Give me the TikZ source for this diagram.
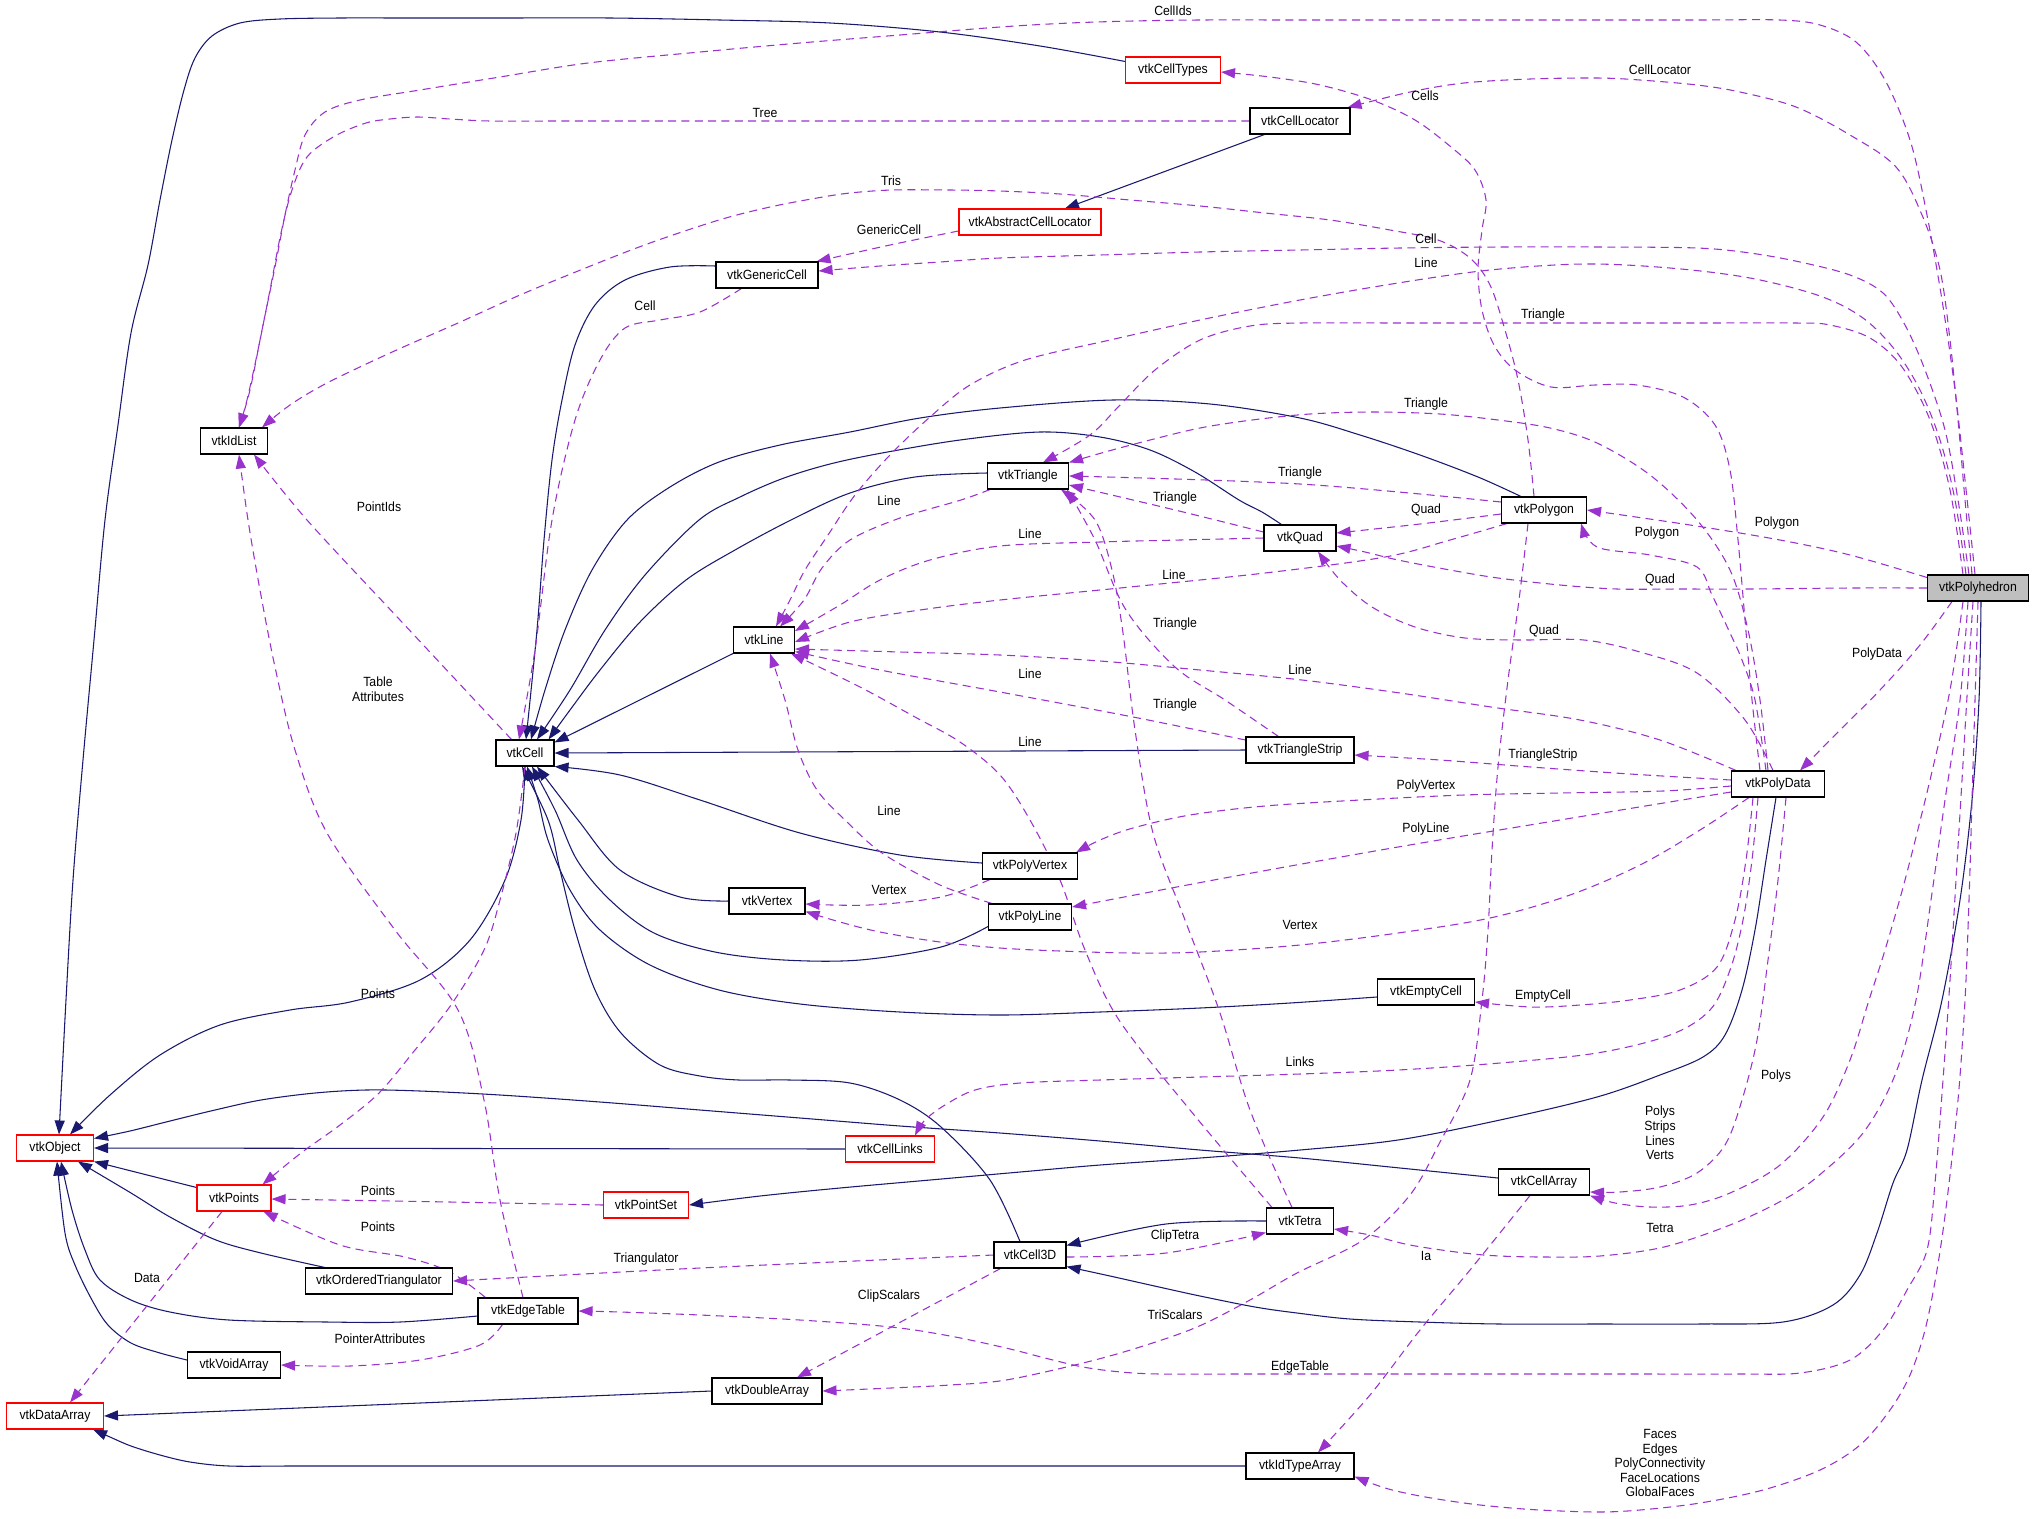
\documentclass[tikz,border=0pt]{standalone}
\usepackage{fontspec}
\setmainfont[FakeStretch=0.92]{Liberation Sans}
\usetikzlibrary{arrows.meta,calc}
\definecolor{inhc}{HTML}{191970}
\definecolor{depc}{HTML}{9A32CD}
\pgfdeclarelayer{edges}
\pgfsetlayers{edges,main}
\begin{document}
\begin{tikzpicture}[x=0.75pt,y=-0.75pt,
  cls/.style={draw=black,line width=0.8pt,fill=white,minimum height=19.5pt,minimum width=#1*0.75pt,inner sep=0pt,font=\fontsize{10}{11}\selectfont},
  rcls/.style={cls=#1,draw=red},
  lbl/.style={inner sep=0pt,align=center,font=\fontsize{10}{10.9}\selectfont},
  inh/.style={draw=inhc,line width=0.8pt,-{Triangle[length=10.5pt,width=7.5pt]}},
  dep/.style={draw=depc,line width=0.8pt,dash pattern=on 6pt off 4pt,-{Triangle[length=10.5pt,width=7.5pt]}}]
\useasboundingbox (0,0) rectangle (2035,1518);
% nodes
\node[cls=101,fill=black!25] (poly) at (1978,588) {vtkPolyhedron};
\node[rcls=95] (ctypes) at (1173,70) {vtkCellTypes};
\node[cls=100] (cloc) at (1300,121) {vtkCellLocator};
\node[rcls=142] (acloc) at (1030,222) {vtkAbstractCellLocator};
\node[cls=102] (gcell) at (767,275) {vtkGenericCell};
\node[cls=67] (idlist) at (234,441) {vtkIdList};
\node[cls=81] (tri) at (1028,476) {vtkTriangle};
\node[cls=85] (polygon) at (1544,510) {vtkPolygon};
\node[cls=72] (quad) at (1300,538) {vtkQuad};
\node[cls=61] (line) at (764,640) {vtkLine};
\node[cls=58] (cell) at (525,753) {vtkCell};
\node[cls=108] (tstrip) at (1300,750) {vtkTriangleStrip};
\node[cls=93] (pdata) at (1778,784) {vtkPolyData};
\node[cls=95] (pvertex) at (1030,866) {vtkPolyVertex};
\node[cls=76] (vertex) at (767,901) {vtkVertex};
\node[cls=83] (pline) at (1030,917) {vtkPolyLine};
\node[cls=97] (ecell) at (1426,992) {vtkEmptyCell};
\node[rcls=77] (object) at (55,1148) {vtkObject};
\node[rcls=89] (clinks) at (890,1149) {vtkCellLinks};
\node[cls=91] (carray) at (1544,1182) {vtkCellArray};
\node[rcls=74] (points) at (234,1198) {vtkPoints};
\node[rcls=85] (pset) at (646,1205) {vtkPointSet};
\node[cls=67] (tetra) at (1300,1221) {vtkTetra};
\node[cls=72] (c3d) at (1030,1255) {vtkCell3D};
\node[cls=147] (otri) at (379,1281) {vtkOrderedTriangulator};
\node[cls=100] (etable) at (528,1311) {vtkEdgeTable};
\node[cls=93] (varray) at (234,1365) {vtkVoidArray};
\node[cls=110] (darray) at (767,1391) {vtkDoubleArray};
\node[rcls=97] (dataarray) at (55,1416) {vtkDataArray};
\node[cls=108] (itarray) at (1300,1466) {vtkIdTypeArray};
% labels
\node[lbl] (l1) at (1173,11) {CellIds};
\node[lbl] (l2) at (1660,70) {CellLocator};
\node[lbl] (l3) at (1425,96) {Cells};
\node[lbl] (l4) at (765,113) {Tree};
\node[lbl] (l5) at (891,181) {Tris};
\node[lbl] (l6) at (889,230) {GenericCell};
\node[lbl] (l7) at (1426,239) {Cell};
\node[lbl] (l8) at (1426,263) {Line};
\node[lbl] (l9) at (1543,315) {Triangle};
\node[lbl] (l10) at (645,306) {Cell};
\node[lbl] (l11) at (1426,404) {Triangle};
\node[lbl] (l12) at (889,501) {Line};
\node[lbl] (l13) at (1300,473) {Triangle};
\node[lbl] (l14) at (1175,498) {Triangle};
\node[lbl] (l15) at (379,507) {PointIds};
\node[lbl] (l16) at (1426,510) {Quad};
\node[lbl] (l17) at (1777,523) {Polygon};
\node[lbl] (l18) at (1657,533) {Polygon};
\node[lbl] (l19) at (1030,534) {Line};
\node[lbl] (l20) at (1174,575) {Line};
\node[lbl] (l21) at (1660,580) {Quad};
\node[lbl] (l22) at (1544,631) {Quad};
\node[lbl] (l23) at (1877,654) {PolyData};
\node[lbl] (l24) at (1300,670) {Line};
\node[lbl] (l25) at (1030,674) {Line};
\node[lbl] (l26) at (378,689) {Table\\Attributes};
\node[lbl] (l27) at (1175,624) {Triangle};
\node[lbl] (l28) at (1175,705) {Triangle};
\node[lbl] (l29) at (1030,742) {Line};
\node[lbl] (l30) at (1543,755) {TriangleStrip};
\node[lbl] (l31) at (1426,786) {PolyVertex};
\node[lbl] (l32) at (889,811) {Line};
\node[lbl] (l33) at (1426,829) {PolyLine};
\node[lbl] (l34) at (889,890) {Vertex};
\node[lbl] (l35) at (1300,925) {Vertex};
\node[lbl] (l36) at (378,994) {Points};
\node[lbl] (l37) at (1543,996) {EmptyCell};
\node[lbl] (l38) at (1300,1062) {Links};
\node[lbl] (l39) at (1776,1076) {Polys};
\node[lbl] (l40) at (1660,1133) {Polys\\Strips\\Lines\\Verts};
\node[lbl] (l41) at (378,1191) {Points};
\node[lbl] (l42) at (378,1227) {Points};
\node[lbl] (l43) at (1660,1228) {Tetra};
\node[lbl] (l44) at (1426,1256) {Ia};
\node[lbl] (l45) at (1175,1236) {ClipTetra};
\node[lbl] (l46) at (646,1259) {Triangulator};
\node[lbl] (l47) at (147,1278) {Data};
\node[lbl] (l48) at (889,1296) {ClipScalars};
\node[lbl] (l49) at (1175,1315) {TriScalars};
\node[lbl] (l50) at (380,1339) {PointerAttributes};
\node[lbl] (l51) at (1300,1367) {EdgeTable};
\node[lbl] (l52) at (1660,1463) {Faces\\Edges\\PolyConnectivity\\FaceLocations\\GlobalFaces};

\begin{pgfonlayer}{edges}
\fill[white] (0,0) rectangle (2035,1518);
% ---------- inheritance ----------
\draw[inh] plot[smooth,tension=0.55] coordinates {($(ctypes.north west)+(0,5)$) (1040,46) (940,32) (830,23) (720,20) (610,18) (500,18) (410,18) (340,18) (280,19) (240,23) (212,36) (195,58) (184,90) (172,140) (160,200) (148,265) (131,333) (118,425) (105,520) (94,640) (83,760) (73,880) (66,1000) ($(object.north)+(4,0)$)};
\draw[inh] ($(cloc.south west)+(15,0)$) -- ($(acloc.north)+(35,0)$);
\draw[inh] plot[smooth,tension=0.55] coordinates {($(gcell.west)+(0,-9)$) (670,267) (625,280) (595,305) (575,345) (562,400) (552,460) (544,540) (537,630) ($(cell.north)+(1,0)$)};
\draw[inh] plot[smooth,tension=0.55] coordinates {($(polygon.north)+(-23,0)$) (1478,477) (1420,455) (1360,435) (1300,418) (1210,404) (1113,400) (1000,408) (920,418) (850,432) (780,445) (719,462) (670,487) (627,520) (592,570) (565,630) (545,690) ($(cell.north)+(6,0)$)};
\draw[inh] plot[smooth,tension=0.55] coordinates {($(quad.north west)+(18,0)$) (1262,512) (1239,500) (1195,472) (1150,450) (1100,437) (1040,432) (960,440) (882,453) (830,464) (784,478) (740,497) (699,520) (645,575) (605,630) (570,690) ($(cell.north)+(12,0)$)};
\draw[inh] plot[smooth,tension=0.55] coordinates {($(tri.west)+(0,-3)$) (915,477) (850,493) (791,520) (735,550) (686,580) (640,622) (600,670) (570,710) ($(cell.north east)+(-6,0)$)};
\draw[inh] (line.south west) -- ($(cell.north east)+(0,3)$);
\draw[inh] (tstrip.west) -- (cell.east);
\draw[inh] plot[smooth,tension=0.55] coordinates {($(pvertex.west)+(0,-3)$) (900,855) (800,833) (700,800) (620,775) (cell.south east)};
\draw[inh] plot[smooth,tension=0.55] coordinates {(vertex.west) (680,897) (620,870) (578,820) ($(cell.south)+(12,0)$)};
\draw[inh] plot[smooth,tension=0.55] coordinates {($(pline.south west)+(0,-4)$) (941,947) (860,960) (784,960) (715,952) (654,933) (610,900) (577,860) (555,810) ($(cell.south)+(7,0)$)};
\draw[inh] plot[smooth,tension=0.55] coordinates {($(ecell.west)+(0,5)$) (1290,1003) (1200,1008) (1100,1012) (1000,1015) (900,1012) (800,1004) (719,990) (650,965) (600,930) (570,890) (548,840) (538,800) ($(cell.south)+(2,0)$)};
\draw[inh] plot[smooth,tension=0.55] coordinates {($(c3d.north)+(-10,0)$) (990,1180) (941,1127) (900,1100) (850,1083) (790,1080) (739,1080) (700,1076) (660,1065) (621,1033) (595,990) (575,930) (560,870) (548,820) ($(cell.south)+(-3,0)$)};
\draw[inh] plot[smooth,tension=0.55] coordinates {(tetra.west) (1166,1224) ($(c3d.north east)+(0,4)$)};
\draw[inh] plot[smooth,tension=0.55] coordinates {($(poly.south)+(3,0)$) (1979,700) (1972,800) (1960,900) (1942,1000) (1922,1080) (1907,1150) (1893,1183) (1877,1233) (1860,1275) (1833,1305) (1783,1322) (1700,1324) (1600,1324) (1500,1324) (1420,1322) (1350,1319) (1297,1313) (1255,1307) (1200,1296) (1159,1287) (1110,1276) ($(c3d.south east)+(0,-2)$)};
\draw[inh] plot[smooth,tension=0.55] coordinates {($(pdata.south)+(-2,0)$) (1766,860) (1755,930) (1742,990) (1725,1035) (1703,1057) (1660,1075) (1597,1097) (1500,1120) (1398,1140) (1300,1150) (1200,1158) (1100,1165) (1020,1172) (930,1180) (840,1188) (760,1196) (pset.east)};
\draw[inh] plot[smooth,tension=0.55] coordinates {($(carray.west)+(0,-4)$) (1400,1168) (1300,1158) (1200,1150) (1100,1141) (1000,1133) (900,1126) (800,1118) (700,1110) (600,1102) (500,1095) (420,1091) (366,1090) (315,1093) (261,1100) (215,1110) (170,1121) (130,1131) ($(object.north east)+(0,4)$)};
\draw[inh] (clinks.west) -- (object.east);
\draw[inh] ($(points.north west)+(0,3)$) -- (object.south east);
\draw[inh] plot[smooth,tension=0.55] coordinates {($(otri.north west)+(20,0)$) (261,1253) (216,1240) (170,1217) (131,1193) ($(object.south)+(23,0)$)};
\draw[inh] plot[smooth,tension=0.55] coordinates {($(etable.west)+(0,5)$) (400,1322) (327,1322) (229,1320) (170,1312) (131,1300) (100,1280) (85,1250) (72,1210) ($(object.south)+(6,0)$)};
\draw[inh] plot[smooth,tension=0.55] coordinates {($(varray.west)+(0,-5)$) (160,1353) (131,1343) (108,1325) (92,1300) (75,1265) (65,1233) ($(object.south)+(2,0)$)};
\draw[inh] (darray.west) -- (dataarray.east);
\draw[inh] plot[smooth,tension=0.55] coordinates {(itarray.west) (1100,1466) (950,1466) (800,1466) (650,1466) (500,1466) (380,1466) (290,1466) (229,1466) (190,1462) (160,1455) (131,1446) (110,1437) ($(dataarray.south east)+(-11,0)$)};
\draw[inh] plot[smooth,tension=0.55] coordinates {(cell.south) (521,820) (505,880) (470,940) (420,980) (350,1002) (290,1010) (220,1025) (160,1055) (110,1095) ($(object.north)+(15,0)$)};
% ---------- usage (dashed) ----------
\draw[dep] plot[smooth,tension=0.55] coordinates {($(poly.north)+(-3,0)$) (1965,480) (1955,390) (1942,300) (1926,210) (1910,140) (1885,80) (1856,42) (1820,25) (1780,20) (1700,20) (1600,20) (1500,20) (1400,20) (1300,20) (1200,20) (1133,21) (1070,23) (1000,27) (900,35) (800,43) (700,52) (588,63) (500,77) (420,90) (360,100) (325,112) (305,135) (295,170) (285,215) (275,267) (262,330) (250,390) ($(idlist.north)+(5,0)$)};
\draw[dep] plot[smooth,tension=0.55] coordinates {($(poly.north)+(-6,0)$) (1965,500) (1958,420) (1950,340) (1940,270) (1922,215) (1896,167) (1850,135) (1796,107) (1740,92) (1697,85) (1640,80) (1597,78) (1530,79) (1464,83) (1410,92) ($(cloc.north east)+(-3,0)$)};
\draw[dep] plot[smooth,tension=0.55] coordinates {($(poly.north)+(-9,0)$) (1958,500) (1945,430) (1925,370) (1905,325) (1883,293) (1850,275) (1800,262) (1750,253) (1697,248) (1600,247) (1500,247) (1400,248) (1300,250) (1200,252) (1100,255) (1000,258) (940,262) (880,266) ($(gcell.east)+(0,-4)$)};
\draw[dep] plot[smooth,tension=0.55] coordinates {($(poly.north)+(-12,0)$) (1955,500) (1940,440) (1920,390) (1895,350) (1863,318) (1820,296) (1750,278) (1670,268) (1584,264) (1490,270) (1398,283) (1300,300) (1200,320) (1110,340) (1025,360) (970,385) (930,417) (890,455) (855,495) (828,535) (805,570) (790,600) ($(line.north)+(12,0)$)};
\draw[dep] plot[smooth,tension=0.55] coordinates {($(poly.north)+(-15,0)$) (1950,490) (1930,420) (1902,367) (1870,338) (1830,325) (1796,323) (1700,323) (1600,323) (1500,323) (1400,323) (1300,323) (1250,326) (1200,340) (1155,370) (1120,405) (1090,435) ($(tri.north)+(15,0)$)};
\draw[dep] plot[smooth,tension=0.55] coordinates {($(pdata.north)+(-18,0)$) (1752,700) (1745,620) (1738,540) (1730,470) (1715,425) (1683,397) (1637,385) (1595,385) (1551,387) (1515,370) (1494,345) (1482,310) (1478,270) (1482,230) (1486,200) (1475,170) (1451,147) (1415,120) (1372,100) (1320,85) (1270,77) ($(ctypes.east)+(0,2)$)};
\draw[dep] plot[smooth,tension=0.55] coordinates {($(pdata.north)+(-10,0)$) (1760,700) (1748,630) (1730,570) (1697,520) (1650,475) (1597,443) (1550,428) (1498,420) (1440,414) (1372,412) (1310,414) (1252,420) (1200,428) (1150,440) (1105,452) (tri.north east)};
\draw[dep] plot[smooth,tension=0.55] coordinates {($(polygon.west)+(0,-8)$) (1300,484) (tri.east)};
\draw[dep] plot[smooth,tension=0.55] coordinates {($(quad.west)+(0,-6)$) (1175,510) ($(tri.east)+(0,9)$)};
\draw[dep] plot[smooth,tension=0.55] coordinates {(quad.west) (1180,540) (1100,542) (1000,546) (930,560) (880,580) (840,605) ($(line.east)+(0,-9)$)};
\draw[dep] plot[smooth,tension=0.55] coordinates {($(polygon.west)+(0,4)$) (1420,524) ($(quad.east)+(0,-5)$)};
\draw[dep] plot[smooth,tension=0.55] coordinates {($(polygon.south west)+(6,0)$) (1450,540) (1385,557) (1265,573) (1130,587) (1000,600) (920,610) (850,622) ($(line.east)+(0,2)$)};
\draw[dep] plot[smooth,tension=0.55] coordinates {($(polygon.north)+(-10,0)$) (1528,440) (1518,380) (1505,330) (1490,285) (1470,258) (1438,240) (1390,230) (1330,220) (1265,213) (1200,206) (1130,200) (1060,194) (1000,191) (950,190) (892,190) (850,193) (817,198) (770,207) (719,220) (650,243) (588,267) (520,295) (458,323) (390,353) (327,383) (290,405) ($(idlist.north east)+(-6,0)$)};
\draw[dep] plot[smooth,tension=0.55] coordinates {(cloc.west) (1150,121) (1050,121) (950,121) (850,121) (750,121) (650,121) (560,121) (490,121) (450,119) (418,117) (390,119) (366,123) (335,136) (307,157) (292,190) (281,233) (270,290) (258,350) (247,400) ($(idlist.north)+(5,0)$)};
\draw[dep] plot[smooth,tension=0.55] coordinates {($(acloc.west)+(0,9)$) (890,245) ($(gcell.north east)+(-2,0)$)};
\draw[dep] plot[smooth,tension=0.55] coordinates {($(gcell.south west)+(26,0)$) (700,312) (660,320) (625,328) (600,360) (575,420) (552,520) (535,650) ($(cell.north)+(-6,0)$)};
\draw[dep] plot[smooth,tension=0.55] coordinates {($(cell.north west)+(16,0)$) (400,620) (307,520) ($(idlist.south)+(20,0)$)};
\draw[dep] plot[smooth,tension=0.55] coordinates {($(etable.north)+(-5,0)$) (500,1200) (484,1100) (458,1010) (395,930) (327,833) (295,750) (275,667) (260,590) (248,520) ($(idlist.south)+(5,0)$)};
\draw[dep] plot[smooth,tension=0.55] coordinates {(cell.south) (516,833) (500,900) (484,950) (451,1005) (415,1050) (379,1093) (340,1125) (301,1153) ($(points.north east)+(-9,0)$)};
\draw[dep] plot[smooth,tension=0.55] coordinates {($(etable.north west)+(8,0)$) (450,1272) (405,1257) (340,1245) ($(points.south east)+(-8,0)$)};
\draw[dep] plot[smooth,tension=0.55] coordinates {(pset.west) (450,1202) ($(points.east)+(0,1)$)};
\draw[dep] ($(points.south)+(-12,0)$) -- ($(dataarray.north)+(15,0)$);
\draw[dep] plot[smooth,tension=0.55] coordinates {($(etable.south west)+(25,0)$) (480,1345) (420,1360) (350,1366) (varray.east)};
\draw[dep] plot[smooth,tension=0.55] coordinates {(c3d.west) (700,1268) (otri.east)};
\draw[dep] ($(c3d.south west)+(7,0)$) -- ($(darray.north)+(30,0)$);
\draw[dep] plot[smooth,tension=0.55] coordinates {($(c3d.east)+(0,2)$) (1166,1253) ($(tetra.south west)+(0,-2)$)};
\draw[dep] plot[smooth,tension=0.55] coordinates {($(tetra.north)+(-8,0)$) (1250,1110) (1219,1010) (1185,920) (1153,833) (1135,730) (1123,633) (1112,570) (1095,520) ($(tri.south east)+(-8,0)$)};
\draw[dep] plot[smooth,tension=0.55] coordinates {($(tstrip.north west)+(33,0)$) (1225,700) (1175,667) (1126,610) (1095,540) ($(tri.south east)+(-2,0)$)};
\draw[dep] plot[smooth,tension=0.55] coordinates {($(tetra.north)+(-28,0)$) (1190,1110) (1119,1020) (1085,950) (1060,880) (1030,820) (1000,775) (960,742) (915,717) (860,687) ($(line.south east)+(-4,0)$)};
\draw[dep] plot[smooth,tension=0.55] coordinates {($(tstrip.west)+(0,-10)$) (1133,717) (1000,692) (880,670) ($(line.south east)+(0,-2)$)};
\draw[dep] plot[smooth,tension=0.55] coordinates {($(pline.north west)+(4,0)$) (940,885) (882,853) (845,820) (817,790) (798,750) (785,700) ($(line.south)+(6,0)$)};
\draw[dep] plot[smooth,tension=0.55] coordinates {($(pvertex.south west)+(8,0)$) (941,897) (869,905) ($(vertex.east)+(0,3)$)};
\draw[dep] plot[smooth,tension=0.55] coordinates {($(pdata.south west)+(18,0)$) (1700,830) (1640,865) (1570,895) (1490,918) (1398,933) (1300,945) (1200,952) (1133,953) (1060,951) (1000,948) (940,942) (880,932) (840,922) ($(vertex.south east)+(0,-3)$)};
\draw[dep] plot[smooth,tension=0.55] coordinates {($(pdata.west)+(0,2)$) (1663,791) (1560,793) (1464,795) (1360,800) (1265,806) (1190,815) (1133,828) (1100,840) ($(pvertex.north east)+(-2,0)$)};
\draw[dep] plot[smooth,tension=0.55] coordinates {($(pdata.west)+(0,8)$) (1560,820) (1398,847) (1230,877) ($(pline.east)+(0,-10)$)};
\draw[dep] plot[smooth,tension=0.55] coordinates {($(pdata.west)+(0,-4)$) (1630,774) (1531,767) (1440,760) ($(tstrip.east)+(0,5)$)};
\draw[dep] plot[smooth,tension=0.55] coordinates {($(pdata.north west)+(5,0)$) (1660,740) (1580,720) (1491,707) (1400,693) (1302,680) (1200,670) (1100,661) (1000,655) (900,652) ($(line.east)+(0,9)$)};
\draw[dep] plot[smooth,tension=0.55] coordinates {($(pdata.north)+(-5,0)$) (1745,720) (1697,673) (1640,652) (1584,640) (1520,640) (1465,638) (1415,627) (1372,607) (1340,580) ($(quad.south)+(18,0)$)};
\draw[dep] plot[smooth,tension=0.55] coordinates {($(pdata.north)+(-12,0)$) (1755,700) (1742,660) (1730,633) (1712,595) (1697,567) (1650,555) (1597,547) ($(polygon.south east)+(-6,0)$)};
\draw[dep] plot[smooth,tension=0.55] coordinates {($(poly.north west)+(0,3)$) (1850,555) (1780,540) (1690,525) (polygon.east)};
\draw[dep] plot[smooth,tension=0.55] coordinates {(poly.west) (1850,588) (1750,589) (1680,589) (1617,589) (1560,585) (1498,578) (1450,570) (1398,560) (1365,552) ($(quad.east)+(0,8)$)};
\draw[dep] plot[smooth,tension=0.55] coordinates {($(poly.south west)+(25,0)$) (1920,645) (1880,690) (1840,730) ($(pdata.north)+(22,0)$)};
\draw[dep] plot[smooth,tension=0.55] coordinates {($(pdata.south)+(-25,0)$) (1746,860) (1735,920) (1717,967) (1680,990) (1630,1000) (1580,1005) (1531,1007) ($(ecell.east)+(0,10)$)};
\draw[dep] plot[smooth,tension=0.55] coordinates {($(pdata.south)+(-20,0)$) (1752,860) (1743,920) (1730,970) (1710,1010) (1670,1035) (1597,1053) (1500,1063) (1398,1070) (1300,1074) (1200,1077) (1100,1080) (1020,1083) (975,1090) (945,1105) (925,1120) ($(clinks.north)+(25,0)$)};
\draw[dep] plot[smooth,tension=0.55] coordinates {($(pdata.south)+(8,0)$) (1778,880) (1768,960) (1757,1040) (1742,1100) (1725,1145) (1697,1173) (1660,1187) (1620,1192) ($(carray.east)+(0,10)$)};
\draw[dep] plot[smooth,tension=0.55] coordinates {($(poly.south)+(-15,0)$) (1950,690) (1930,780) (1905,880) (1885,950) (1869,1000) (1850,1060) (1823,1117) (1780,1165) (1730,1193) (1690,1205) (1650,1207) (1615,1203) (carray.south east)};
\draw[dep] plot[smooth,tension=0.55] coordinates {($(poly.south)+(-10,0)$) (1960,700) (1945,800) (1931,900) (1916,1000) (1895,1075) (1863,1133) (1817,1177) (1783,1200) (1730,1225) (1664,1247) (1600,1256) (1544,1257) (1500,1256) (1464,1253) (1410,1245) (1370,1235) ($(tetra.east)+(0,8)$)};
\draw[dep] plot[smooth,tension=0.55] coordinates {($(poly.south)+(-5,0)$) (1968,680) (1962,780) (1956,880) (1950,980) (1943,1080) (1935,1183) (1927,1250) (1907,1290) (1883,1330) (1850,1360) (1800,1373) (1740,1374) (1640,1374) (1540,1374) (1440,1374) (1340,1374) (1240,1374) (1160,1374) (1121,1372) (1083,1367) (1045,1358) (1006,1348) (950,1336) (891,1327) (800,1320) (700,1315) (620,1312) (etable.east)};
\draw[dep] plot[smooth,tension=0.55] coordinates {(poly.south) (1975,700) (1972,800) (1969,900) (1965,1000) (1958,1100) (1947,1200) (1937,1270) (1925,1330) (1910,1375) (1890,1410) (1860,1445) (1820,1470) (1763,1490) (1700,1503) (1640,1510) (1597,1512) (1540,1510) (1500,1507) (1464,1503) (1420,1496) (1385,1488) ($(itarray.south east)+(0,-3)$)};
\draw[dep] plot[smooth,tension=0.55] coordinates {($(carray.south)+(-14,0)$) (1470,1270) (1420,1330) (1370,1395) ($(itarray.north)+(18,0)$)};
\draw[dep] plot[smooth,tension=0.55] coordinates {($(polygon.south)+(-16,0)$) (1519,600) (1508,680) (1498,767) (1492,850) (1488,930) (1482,1000) (1470,1080) (1440,1142) (1410,1195) (1363,1240) (1297,1273) (1250,1300) (1197,1327) (1140,1347) (1083,1363) (1006,1380) (950,1385) (891,1388) (darray.east)};
\draw[dep] plot[smooth,tension=0.55] coordinates {($(tri.south west)+(3,0)$) (961,500) (900,518) (850,540) (822,568) (804,600) ($(line.north east)+(-15,0)$)};
\end{pgfonlayer}
\end{tikzpicture}
\end{document}
